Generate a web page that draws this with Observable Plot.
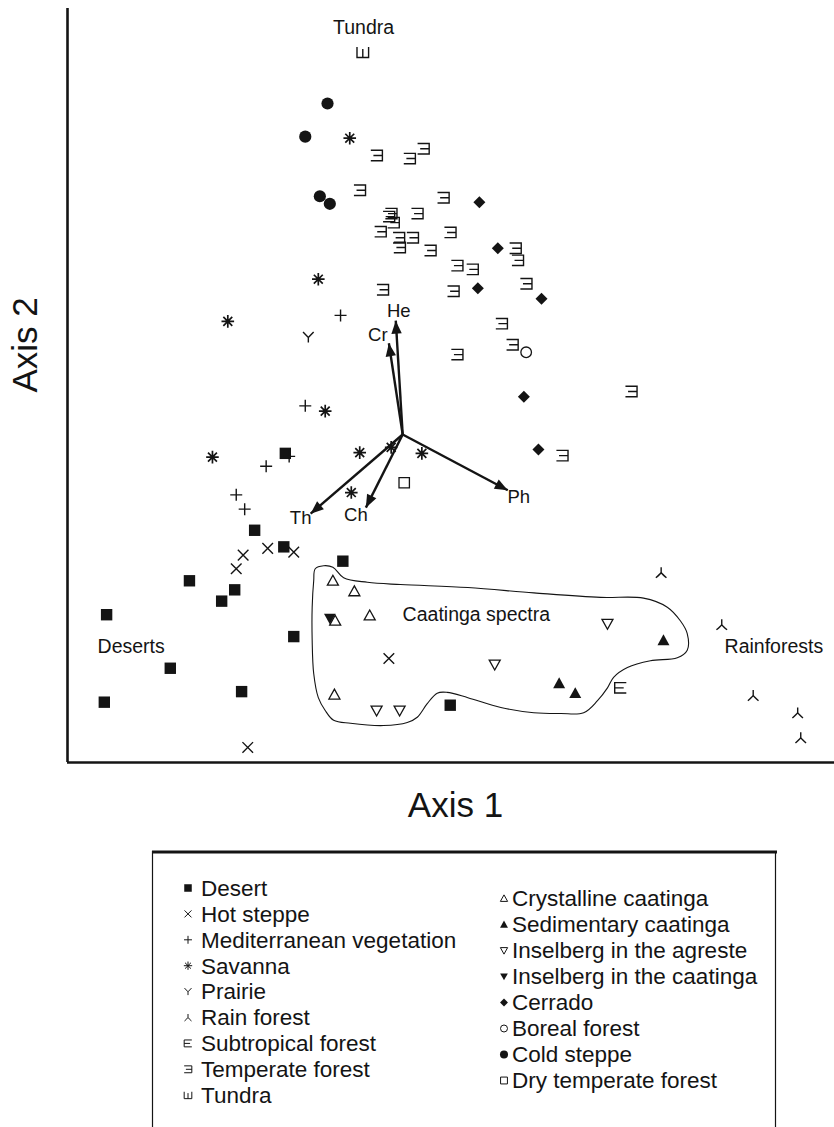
<!DOCTYPE html>
<html>
<head>
<meta charset="utf-8">
<script src="https://cdn.jsdelivr.net/npm/d3@7"></script>
<script src="https://cdn.jsdelivr.net/npm/@observablehq/plot@0.6"></script>
<style>
  body { margin: 0; background: #fff; font-family: "Liberation Sans", Arial, sans-serif; }
  #chart svg, #legend svg { display: block; }
</style>
</head>
<body>
<div id="chart"></div>
<div id="legend"></div>
<script>
// Ordination scores [Axis 1, Axis 2] of the life-form spectra, by vegetation type
const desert = [[2.84,4.10],[2.44,3.08],[2.82,2.86],[3.59,2.67],[1.59,2.41],[2.18,2.29],[2.01,2.14],[0.51,1.96],[2.95,1.67],[1.34,1.25],[2.27,0.94],[0.48,0.80],[4.99,0.76]];
const hotSteppe = [[2.61,2.84],[2.95,2.79],[2.29,2.75],[2.20,2.57],[2.35,0.20],[4.19,1.38]];
const mediterranean = [[3.56,5.93],[3.10,4.73],[2.89,4.06],[2.59,3.93],[2.20,3.55],[2.31,3.36]];
const savanna = [[3.68,8.28],[3.27,6.41],[2.09,5.85],[3.36,4.66],[1.89,4.05],[3.81,4.11],[4.22,4.18],[4.62,4.10],[3.70,3.58]];
const prairie = [[3.14,5.64]];
const rainForest = [[7.74,2.52],[8.53,1.83],[8.94,0.89],[9.52,0.66],[9.56,0.33]];
const subtropical = [[7.21,0.99]];
const temperate = [[4.03,8.05],[4.46,8.01],[4.64,8.14],[3.81,7.59],[4.90,7.49],[4.19,7.24],[4.22,7.28],[4.25,7.16],[4.56,7.28],[4.08,7.04],[4.32,6.96],[4.50,6.96],[4.33,6.83],[4.73,6.79],[4.99,7.03],[5.08,6.59],[5.28,6.54],[4.11,6.27],[5.03,6.25],[5.84,6.82],[5.87,6.66],[5.98,6.35],[5.66,5.82],[5.80,5.54],[5.08,5.41],[7.35,4.92],[6.45,4.07]];
const tundra = [[3.85,9.42]];
const crystalline = [[3.46,2.41],[3.74,2.27],[3.94,1.95],[3.49,1.88],[3.48,0.90]];
const sedimentary = [[6.41,1.05],[6.62,0.92],[7.77,1.62]];
const inselbergAgreste = [[4.03,0.69],[4.33,0.69],[5.57,1.30],[7.04,1.84]];
const inselbergCaatinga = [[3.42,1.91]];
const cerrado = [[5.37,7.43],[5.61,6.82],[5.35,6.29],[6.18,6.15],[5.95,4.85],[6.14,4.15]];
const boreal = [[5.98,5.44]];
const coldSteppe = [[3.39,8.74],[3.10,8.30],[3.29,7.51],[3.42,7.41]];
const dryTemperate = [[4.39,3.71]];

// Outline drawn around the caatinga spectra
const caatingaOutline = [[3.23,2.57],[3.34,2.61],[3.46,2.59],[3.60,2.45],[3.91,2.39],[4.34,2.36],[5.22,2.32],[6.08,2.25],[6.95,2.19],[7.51,2.18],[7.82,2.06],[7.99,1.88],[8.08,1.71],[8.08,1.49],[7.95,1.39],[7.60,1.35],[7.30,1.26],[7.12,1.13],[7.04,0.99],[6.91,0.82],[6.73,0.66],[6.43,0.65],[6.08,0.66],[5.65,0.73],[5.22,0.86],[4.95,0.93],[4.82,0.92],[4.69,0.78],[4.56,0.60],[4.43,0.53],[4.12,0.49],[3.69,0.52],[3.47,0.56],[3.36,0.69],[3.27,0.86],[3.21,1.18],[3.19,1.62],[3.19,2.06],[3.21,2.41]];

// Life-form vectors (biplot arrows)
const vectorNames = ["He", "Cr", "Th", "Ch", "Ph"];
const vectorOrigin = [4.37, 4.35];
const vectorTips = [[4.28,5.86],[4.19,5.56],[3.17,3.30],[3.89,3.38],[5.74,3.61]];

// Region annotations
const regionNames = ["Tundra", "Deserts", "Caatinga spectra", "Rainforests"];
const regionPositions = [[3.86,9.75],[0.83,1.54],[5.33,1.96],[9.21,1.54]];

const axisTitles = ["Axis 1", "Axis 2"];

// ---- layout ----
const ink = "#141414";
const W = 834, H = 840;
const M = {top: 8, right: 0, bottom: 78, left: 67};
const xDomain = [0, 10], yDomain = [0, 10];
const kx = (W - M.left - M.right) / (xDomain[1] - xDomain[0]);
const ky = (H - M.top - M.bottom) / (yDomain[1] - yDomain[0]);

// ---- custom symbols (h = half size in px) ----
const shape = f => ({draw(c, size) { f(c, Math.sqrt(size / Math.PI)); }});
const shapes = {
  square: shape((c, h) => c.rect(-h, -h, 2 * h, 2 * h)),
  circle: shape((c, h) => { c.moveTo(h, 0); c.arc(0, 0, h, 0, 2 * Math.PI); }),
  triUp: shape((c, h) => { c.moveTo(0, -h); c.lineTo(h, 0.8 * h); c.lineTo(-h, 0.8 * h); c.closePath(); }),
  triDown: shape((c, h) => { c.moveTo(0, h); c.lineTo(h, -0.8 * h); c.lineTo(-h, -0.8 * h); c.closePath(); }),
  diamond: shape((c, h) => { c.moveTo(0, -h); c.lineTo(h, 0); c.lineTo(0, h); c.lineTo(-h, 0); c.closePath(); }),
  cross: shape((c, h) => { c.moveTo(-h, -h); c.lineTo(h, h); c.moveTo(h, -h); c.lineTo(-h, h); }),
  plus: shape((c, h) => { c.moveTo(-h, 0); c.lineTo(h, 0); c.moveTo(0, -h); c.lineTo(0, h); }),
  star: shape((c, h) => {
    for (let k = 0; k < 4; k++) {
      const a = k * Math.PI / 4, dx = h * Math.cos(a), dy = h * Math.sin(a);
      c.moveTo(-dx, -dy); c.lineTo(dx, dy);
    }
  }),
  ypsilon: shape((c, h) => { c.moveTo(-h, -h); c.lineTo(0, 0.05 * h); c.lineTo(h, -h); c.moveTo(0, 0.05 * h); c.lineTo(0, h); }),
  rain: shape((c, h) => { c.moveTo(0, -h); c.lineTo(0, 0); c.moveTo(-h, h); c.quadraticCurveTo(-0.2 * h, 0.3 * h, 0, 0); c.quadraticCurveTo(0.2 * h, 0.3 * h, h, h); }),
  eLetter: shape((c, h) => { c.moveTo(h, -0.9 * h); c.lineTo(-h, -0.9 * h); c.lineTo(-h, 0.9 * h); c.lineTo(h, 0.9 * h); c.moveTo(-h, 0); c.lineTo(0.55 * h, 0); }),
  eReversed: shape((c, h) => { c.moveTo(-h, -0.9 * h); c.lineTo(h, -0.9 * h); c.lineTo(h, 0.9 * h); c.lineTo(-h, 0.9 * h); c.moveTo(h, 0); c.lineTo(-0.55 * h, 0); }),
  sha: shape((c, h) => { c.moveTo(-h, -0.9 * h); c.lineTo(-h, 0.9 * h); c.lineTo(h, 0.9 * h); c.lineTo(h, -0.9 * h); c.moveTo(0, -0.55 * h); c.lineTo(0, 0.9 * h); }),
  arrowhead: shape((c, L) => { c.moveTo(0, 0); c.lineTo(0.4 * L, L); c.lineTo(-0.4 * L, L); c.closePath(); })
};

// Vegetation types: symbol and drawing style
const groups = [
  {name: "Desert", pts: desert, sym: shapes.square, r: 5.7, mode: "fill", col: 0},
  {name: "Hot steppe", pts: hotSteppe, sym: shapes.cross, r: 5.3, mode: "line", col: 0},
  {name: "Mediterranean vegetation", pts: mediterranean, sym: shapes.plus, r: 6, mode: "line", col: 0},
  {name: "Savanna", pts: savanna, sym: shapes.star, r: 6.3, mode: "line", sw: 1.7, col: 0},
  {name: "Prairie", pts: prairie, sym: shapes.ypsilon, r: 5.3, mode: "line", col: 0},
  {name: "Rain forest", pts: rainForest, sym: shapes.rain, r: 5.3, mode: "line", col: 0},
  {name: "Subtropical forest", pts: subtropical, sym: shapes.eLetter, r: 5.8, mode: "line", col: 0},
  {name: "Temperate forest", pts: temperate, sym: shapes.eReversed, r: 5.8, mode: "line", col: 0},
  {name: "Tundra", pts: tundra, sym: shapes.sha, r: 5.8, mode: "line", col: 0},
  {name: "Inselberg in the caatinga", pts: inselbergCaatinga, sym: shapes.triDown, r: 5.8, mode: "fill", col: 1, order: 3},
  {name: "Crystalline caatinga", pts: crystalline, sym: shapes.triUp, r: 5.5, mode: "open", col: 1, order: 0},
  {name: "Sedimentary caatinga", pts: sedimentary, sym: shapes.triUp, r: 6, mode: "fill", col: 1, order: 1},
  {name: "Inselberg in the agreste", pts: inselbergAgreste, sym: shapes.triDown, r: 5.5, mode: "open", col: 1, order: 2},
  {name: "Cerrado", pts: cerrado, sym: shapes.diamond, r: 6, mode: "fill", col: 1, order: 4},
  {name: "Boreal forest", pts: boreal, sym: shapes.circle, r: 5.3, mode: "open", col: 1, order: 5},
  {name: "Cold steppe", pts: coldSteppe, sym: shapes.circle, r: 6.1, mode: "fill", col: 1, order: 6},
  {name: "Dry temperate forest", pts: dryTemperate, sym: shapes.square, r: 5.2, mode: "open", col: 1, order: 7}
];

const dotStyle = (g) => g.mode === "fill"
  ? {fill: ink, stroke: "none"}
  : g.mode === "open"
    ? {fill: "white", stroke: ink, strokeWidth: g.sw ?? 1.3}
    : {fill: "none", stroke: ink, strokeWidth: g.sw ?? 1.4};

const X = d => d[0], Y = d => d[1];
const arrows = vectorTips.map((t, i) => ({
  name: vectorNames[i], x1: vectorOrigin[0], y1: vectorOrigin[1], x2: t[0], y2: t[1],
  angle: Math.atan2((t[0] - vectorOrigin[0]) * kx, (t[1] - vectorOrigin[1]) * ky) * 180 / Math.PI
}));
const labelNudge = {He: [3, -10], Cr: [-11, -8], Th: [-10, 4], Ch: [-10, 7], Ph: [11, 7]};

const plot = Plot.plot({
  width: W, height: H,
  marginTop: M.top, marginRight: M.right, marginBottom: M.bottom, marginLeft: M.left,
  x: {domain: xDomain, axis: null},
  y: {domain: yDomain, axis: null},
  style: {fontFamily: "'Liberation Sans', Arial, sans-serif", background: "white", color: ink},
  marks: [
    Plot.line(caatingaOutline, {x: X, y: Y, curve: "catmull-rom-closed", stroke: ink, strokeWidth: 1.1}),
    Plot.ruleX([xDomain[0]], {stroke: ink, strokeWidth: 2.6}),
    Plot.ruleY([yDomain[0]], {stroke: ink, strokeWidth: 2.6}),
    Plot.link(arrows, {x1: "x1", y1: "y1", x2: "x2", y2: "y2", stroke: ink, strokeWidth: 2.4}),
    Plot.dot(arrows, {x: "x2", y: "y2", symbol: shapes.arrowhead, r: 13, rotate: "angle", fill: ink, stroke: "none"}),
    ...groups.map(g => Plot.dot(g.pts, {x: X, y: Y, symbol: g.sym, r: g.r, ...dotStyle(g)})),
    ...arrows.map(a => Plot.text([a], {x: "x2", y: "y2", text: "name", dx: labelNudge[a.name][0], dy: labelNudge[a.name][1], fontSize: 18.5, fill: ink})),
    Plot.text(regionNames, {x: (d, i) => regionPositions[i][0], y: (d, i) => regionPositions[i][1], text: d => d, fontSize: 19.5, fill: ink}),
    Plot.text([axisTitles[0]], {frameAnchor: "bottom", text: d => d, dx: 4.5, dy: 43, lineAnchor: "middle", fontSize: 35, fill: ink}),
    Plot.text([axisTitles[1]], {frameAnchor: "left", text: d => d, dx: -42, dy: 7, rotate: -90, lineAnchor: "middle", fontSize: 35, fill: ink})
  ]
});
document.getElementById("chart").append(plot);

// ---- legend (boxed, two columns) ----
const LH = 287;
const leg = d3.create("svg").attr("width", W).attr("height", LH)
  .style("font-family", "'Liberation Sans', Arial, sans-serif");
leg.append("line").attr("x1", 152).attr("x2", 777).attr("y1", 12).attr("y2", 12).attr("stroke", ink).attr("stroke-width", 3);
leg.append("line").attr("x1", 152.5).attr("x2", 152.5).attr("y1", 11).attr("y2", LH).attr("stroke", ink).attr("stroke-width", 1.2);
leg.append("line").attr("x1", 775.5).attr("x2", 775.5).attr("y1", 11).attr("y2", LH).attr("stroke", ink).attr("stroke-width", 1.2);

const legCols = [
  {sx: 188, tx: 201, y0: 48, step: 25.9},
  {sx: 504, tx: 512, y0: 58.5, step: 26}
];
const leftItems = groups.filter(g => g.col === 0);
const rightItems = groups.filter(g => g.col === 1).sort((a, b) => a.order - b.order);
[leftItems, rightItems].forEach((items, ci) => {
  const c = legCols[ci];
  items.forEach((g, i) => {
    const y = c.y0 + i * c.step;
    const st = dotStyle(g);
    const h = g.r * 0.66;
    leg.append("path")
      .attr("transform", `translate(${c.sx},${y})`)
      .attr("d", d3.symbol(g.sym, Math.PI * h * h)())
      .attr("fill", st.fill).attr("stroke", st.stroke)
      .attr("stroke-width", st.stroke === "none" ? null : 1);
    leg.append("text").attr("x", c.tx).attr("y", y).attr("dy", "0.35em")
      .attr("font-size", 22.5).attr("fill", ink).text(g.name);
  });
});
document.getElementById("legend").append(leg.node());
</script>
</body>
</html>
